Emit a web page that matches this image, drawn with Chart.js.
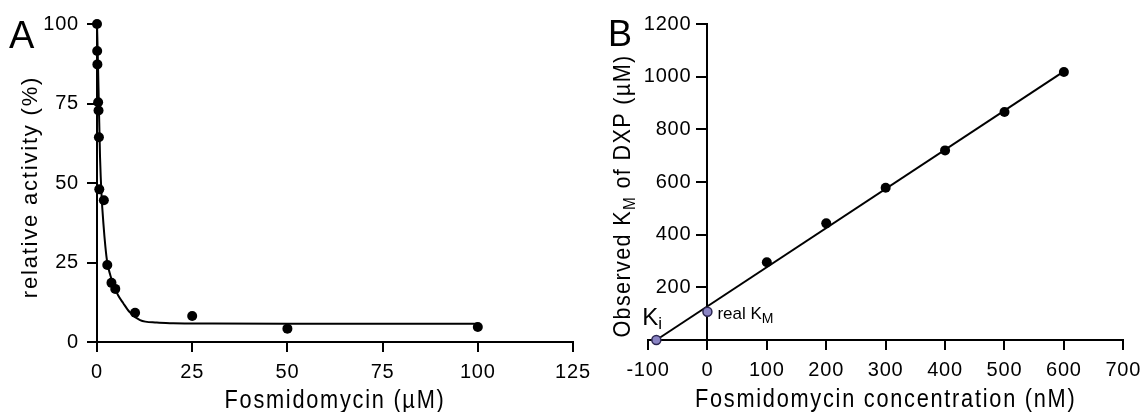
<!DOCTYPE html>
<html>
<head>
<meta charset="utf-8">
<script src="https://cdn.jsdelivr.net/npm/chart.js@4/dist/chart.umd.min.js"></script>
<style>
    html, body { margin: 0; padding: 0; background: #fff; }
    #wrap { position: relative; width: 1148px; height: 412px; }
    #wrap canvas { position: absolute; left: 0; top: 0; }
</style>
</head>
<body>
<div id="wrap">
    <canvas id="chartA" width="1148" height="412"></canvas>
    <canvas id="chartB" width="1148" height="412"></canvas>
</div>
<script>
// ===== 数据：A 图（抑制曲线） =====
const concA = [0, 0.05, 0.1, 0.3, 0.4, 0.5, 0.6, 1.8, 2.7, 3.8, 4.8, 10, 25, 50, 100];
const activityA = [100, 91.5, 87.3, 75.4, 72.8, 64.4, 48, 44.6, 24.2, 18.6, 16.7, 9.2, 8.2, 4.2, 4.7];
// 拟合曲线
const fitConcA = [0, 0.25, 0.5, 0.8, 1.2, 1.7, 2.2, 2.7, 3.5, 4.3, 5.5, 6.9, 8.5, 11.3, 15.7, 20, 30, 50, 75, 100];
const fitActA = [100, 88, 74, 58, 46, 37, 30, 25, 21, 18, 14.8, 12.2, 9.5, 6.9, 6.1, 5.9, 5.8, 5.7, 5.7, 5.7];
const ticksAX = [0, 25, 50, 75, 100, 125];
const ticksAY = [0, 25, 50, 75, 100];

// ===== 数据：B 图（表观 KM） =====
const concB = [100, 200, 300, 400, 500, 600];
const kmObsB = [295, 443, 578, 720, 866, 1018];
const realKmX = [0];
const realKmY = [107];
const kiX = [-86];
const kiY = [0];
const lineBX = [-86, 600];
const lineBY = [0, 1020];
const ticksBX = [-100, 0, 100, 200, 300, 400, 500, 600, 700];
const ticksBY = [0, 200, 400, 600, 800, 1000, 1200];

const FONT = '"Liberation Sans", Arial, Helvetica, sans-serif';
const TICK_SIZE = 20;

const toXY = (xs, ys) => xs.map((x, i) => ({ x: x, y: ys[i] }));

// 文字段绘制（支持下标、旋转、横向压缩、字距）
function drawRuns(ctx, runs, x, y, opt) {
    const o = Object.assign({ rotate: 0, align: 'left', scaleX: 1, spacing: 0 }, opt);
    ctx.save();
    ctx.translate(x, y);
    if (o.rotate) ctx.rotate(o.rotate);
    ctx.scale(o.scaleX, 1);
    ctx.letterSpacing = o.spacing + 'px';
    ctx.textBaseline = 'alphabetic';
    ctx.textAlign = 'left';
    ctx.fillStyle = '#000';
    let total = 0;
    runs.forEach(r => {
        ctx.font = r.size + 'px ' + FONT;
        r.w = ctx.measureText(r.t).width;
        total += r.w;
    });
    let cx = 0;
    if (o.align === 'center') cx = -total / 2;
    if (o.align === 'right') cx = -total;
    runs.forEach(r => {
        ctx.font = r.size + 'px ' + FONT;
        ctx.fillText(r.t, cx, r.dy || 0);
        cx += r.w;
    });
    ctx.restore();
}

const tickSpacing = {
    id: 'tickSpacing',
    beforeDraw(chart) {
        chart.ctx.letterSpacing = '0.8px';
    }
};

function axisStyle(extra) {
    return Object.assign({
        type: 'linear',
        grid: { drawOnChartArea: false, drawTicks: true, tickLength: 10, color: '#000', lineWidth: 2 },
        border: { color: '#000', width: 2 },
        ticks: { color: '#000', font: { family: FONT, size: TICK_SIZE }, padding: 8 }
    }, extra);
}

// ===== A 图 =====
const labelsA = {
    id: 'labelsA',
    afterDraw(chart) {
        const ctx = chart.ctx;
        const area = chart.chartArea;
        drawRuns(ctx, [{ t: 'A', size: 38 }], 9, 48);
        drawRuns(ctx, [{ t: 'Fosmidomycin (µM)', size: 25 }], (area.left + area.right) / 2, 407.5,
            { align: 'center', scaleX: 0.87, spacing: 2 });
        drawRuns(ctx, [{ t: 'relative activity (%)', size: 22 }], 37, 187,
            { align: 'center', rotate: -Math.PI / 2, spacing: 1.8 });
    }
};

new Chart(document.getElementById('chartA'), {
    type: 'scatter',
    data: {
        datasets: [
            {
                data: toXY(concA, activityA),
                pointRadius: 5,
                pointBackgroundColor: '#000',
                pointBorderWidth: 0,
                clip: false
            },
            {
                data: toXY(fitConcA, fitActA),
                showLine: true,
                pointRadius: 0,
                borderColor: '#000',
                borderWidth: 2,
                cubicInterpolationMode: 'monotone',
                clip: false
            }
        ]
    },
    options: {
        responsive: false,
        animation: false,
        events: [],
        layout: { padding: { left: 37, top: 24, right: 575, bottom: 0 } },
        plugins: { legend: { display: false }, tooltip: { enabled: false } },
        scales: {
            x: axisStyle({
                min: 0, max: 125,
                afterBuildTicks: s => { s.ticks = ticksAX.map(v => ({ value: v })); },
                afterFit: s => { s.height = 70; }
            }),
            y: axisStyle({
                min: 0, max: 100,
                afterBuildTicks: s => { s.ticks = ticksAY.map(v => ({ value: v })); },
                afterFit: s => { s.width = 60; }
            })
        }
    },
    plugins: [tickSpacing, labelsA]
});

// ===== B 图 =====
const labelsB = {
    id: 'labelsB',
    afterDraw(chart) {
        const ctx = chart.ctx;
        const area = chart.chartArea;
        const sx = chart.scales.x, sy = chart.scales.y;
        const axisX = sx.getPixelForValue(0);
        // y 轴刻度文字（轴位于 x = 0 处）
        ticksBY.forEach(v => {
            if (v === 0) return;
            ctx.save();
            ctx.font = TICK_SIZE + 'px ' + FONT;
            ctx.letterSpacing = '0.8px';
            ctx.fillStyle = '#000';
            ctx.textAlign = 'right';
            ctx.textBaseline = 'middle';
            ctx.fillText(String(v), axisX - 16, sy.getPixelForValue(v));
            ctx.restore();
        });
        drawRuns(ctx, [{ t: 'B', size: 36 }], 608, 46);
        drawRuns(ctx, [{ t: 'Fosmidomycin concentration (nM)', size: 25 }], (area.left + area.right) / 2, 407,
            { align: 'center', scaleX: 0.87, spacing: 2 });
        drawRuns(ctx, [
            { t: 'Observed K', size: 24 },
            { t: 'M', size: 17, dy: 5 },
            { t: ' of DXP (µM)', size: 24 }
        ], 630, 196, { align: 'center', rotate: -Math.PI / 2, scaleX: 0.9, spacing: 1.5 });
        // 注释：Ki 与 real KM
        const kx = sx.getPixelForValue(kiX[0]), ky = sy.getPixelForValue(kiY[0]);
        drawRuns(ctx, [{ t: 'K', size: 24 }, { t: 'i', size: 17, dy: 4 }], kx - 14, ky - 15);
        const rx = sx.getPixelForValue(realKmX[0]), ry = sy.getPixelForValue(realKmY[0]);
        drawRuns(ctx, [{ t: 'real K', size: 17 }, { t: 'M', size: 14, dy: 4 }], rx + 10, ry + 7);
    }
};

new Chart(document.getElementById('chartB'), {
    type: 'scatter',
    data: {
        datasets: [
            {
                data: toXY(realKmX, realKmY).concat(toXY(kiX, kiY)),
                pointRadius: 4.5,
                pointBackgroundColor: '#8a84c4',
                pointBorderColor: '#2b2650',
                pointBorderWidth: 1.5,
                clip: false
            },
            {
                data: toXY(concB, kmObsB),
                pointRadius: 5,
                pointBackgroundColor: '#000',
                pointBorderWidth: 0,
                clip: false
            },
            {
                data: toXY(lineBX, lineBY),
                showLine: true,
                pointRadius: 0,
                borderColor: '#000',
                borderWidth: 2,
                clip: false
            }
        ]
    },
    options: {
        responsive: false,
        animation: false,
        events: [],
        layout: { padding: { left: 648, top: 24, right: 22, bottom: 2 } },
        plugins: { legend: { display: false }, tooltip: { enabled: false } },
        scales: {
            x: axisStyle({
                min: -100, max: 700,
                afterBuildTicks: s => { s.ticks = ticksBX.map(v => ({ value: v })); },
                afterFit: s => { s.height = 70; }
            }),
            y: axisStyle({
                min: 0, max: 1200,
                position: { x: 0 },
                afterBuildTicks: s => { s.ticks = ticksBY.filter(v => v !== 0).map(v => ({ value: v })); },
                afterFit: s => { s.width = 0; },
                ticks: { display: false }
            })
        }
    },
    plugins: [tickSpacing, labelsB]
});
</script>
</body>
</html>
